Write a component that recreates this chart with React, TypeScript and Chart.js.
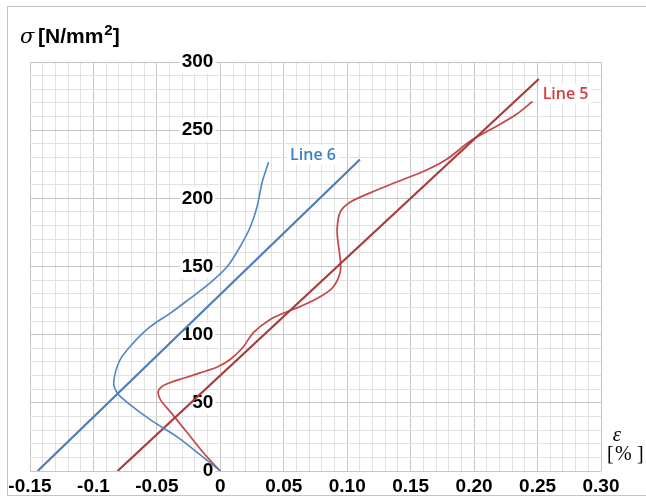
import { useEffect, useRef } from "react";
import { Chart, registerables } from "chart.js";
Chart.register(...registerables);

// Tick labels
const xMajorLabels = ["-0.15", "-0.1", "-0.05", "0", "0.05", "0.10", "0.15", "0.20", "0.25", "0.30"];
const yMajorLabels = ["0", "50", "100", "150", "200", "250", "300"];

// Line 6 (blue) – measured curve
const line6CurveStrain = [0, -0.016, -0.034, -0.055, -0.073, -0.081, -0.084, -0.079, -0.0685, -0.055, -0.039, -0.024, -0.008, 0.0055, 0.0157, 0.0236, 0.029, 0.033, 0.038];
const line6CurveStress = [0, 12, 25, 37.5, 50, 57, 65, 81.6, 94, 106, 116, 126.5, 138, 150, 164.7, 179, 194, 212, 226.5];
// Line 6 – straight line
const line6StraightStrain = [-0.144, 0.11];
const line6StraightStress = [0, 228.5];

// Line 5 (red) – measured curve
const line5CurveStrain = [0, -0.013, -0.026, -0.039, -0.047, -0.049, -0.046, -0.039, -0.029, -0.016, -0.002, 0.008, 0.018, 0.026, 0.039, 0.053, 0.063, 0.079, 0.089, 0.0945, 0.0945, 0.093, 0.092, 0.0945, 0.102, 0.118, 0.139, 0.163, 0.179, 0.197, 0.218, 0.234, 0.246];
const line5CurveStress = [0, 13, 28, 43, 52, 58, 62, 65, 68, 72, 76.5, 82, 91, 101.5, 111, 117, 120.6, 128, 135, 146, 155, 166, 177, 190, 197, 204, 212, 221, 229, 242, 253, 262, 271];
// Line 5 – straight line
const line5StraightStrain = [-0.081, 0.251];
const line5StraightStress = [0, 287.5];

// Series labels
const seriesLabels = ["Line 6", "Line 5"];
const seriesLabelStrain = [0.055, 0.254];
const seriesLabelStress = [232, 277];
const seriesLabelColors = ["#3a7dc9", "#d43a3f"];

const toPoints = (xs: number[], ys: number[]) => xs.map((x, i) => ({ x, y: ys[i] }));

export default function App() {
  const ref = useRef<HTMLCanvasElement>(null);

  useEffect(() => {
    if (!ref.current) return;
    const textPlugin = {
      id: "texts",
      beforeDraw(chart: any) {
        const ctx = chart.ctx;
        ctx.save();
        ctx.fillStyle = "#fff";
        ctx.fillRect(0, 0, chart.width, chart.height);
        ctx.strokeStyle = "#c4c4c4";
        ctx.lineWidth = 1;
        ctx.strokeRect(7.5, 6.5, 700, 489);
        ctx.restore();
      },
      afterDraw(chart: any) {
        const ctx = chart.ctx;
        ctx.save();
        ctx.fillStyle = "#000";
        ctx.textAlign = "left";
        ctx.textBaseline = "alphabetic";
        // Title
        ctx.font = "italic 21px 'DejaVu Serif'";
        ctx.fillText("σ", 20, 43);
        ctx.font = "bold 21px 'Liberation Sans'";
        ctx.fillText("[N/mm", 38, 43);
        const w1 = ctx.measureText("[N/mm").width;
        ctx.font = "bold 15px 'Liberation Sans'";
        ctx.fillText("2", 38 + w1 + 1, 35);
        const w2 = ctx.measureText("2").width;
        ctx.font = "bold 21px 'Liberation Sans'";
        ctx.fillText("]", 38 + w1 + 1 + w2, 43);
        // x axis unit
        ctx.font = "italic 21px 'Liberation Serif'";
        ctx.textAlign = "center";
        ctx.fillText("ε", 617, 441);
        ctx.font = "20px 'Liberation Serif'";
        ctx.textAlign = "left";
        ctx.fillText("[", 607, 460);
        ctx.fillText("%", 615, 460);
        ctx.fillText("]", 637, 460);
        // Series labels
        const xs = chart.scales.x;
        const ys = chart.scales.y;
        ctx.font = "600 16px 'Open Sans'";
        ctx.textBaseline = "middle";
        seriesLabels.forEach((t, i) => {
          const px = xs.getPixelForValue(seriesLabelStrain[i]);
          const py = ys.getPixelForValue(seriesLabelStress[i]);
          const w = ctx.measureText(t).width;
          ctx.fillStyle = "#fff";
          ctx.fillRect(px - 3, py - 10, w + 6, 20);
          ctx.fillStyle = seriesLabelColors[i];
          ctx.fillText(t, px, py + 1);
        });
        ctx.restore();
      },
    };

    const majorColor = "#c6c6c6";
    const minorColor = "#e2e2e2";

    const chart = new Chart(ref.current, {
      type: "scatter",
      data: {
        datasets: [
          {
            data: toPoints(line6StraightStrain, line6StraightStress),
            showLine: true,
            borderColor: "#4a7ebb",
            borderWidth: 2.2,
            pointRadius: 0,
          },
          {
            data: toPoints(line6CurveStrain, line6CurveStress),
            showLine: true,
            borderColor: "#4f86c6",
            borderWidth: 1.6,
            pointRadius: 0,
            tension: 0.3,
          },
          {
            data: toPoints(line5StraightStrain, line5StraightStress),
            showLine: true,
            borderColor: "#a83b3c",
            borderWidth: 2.2,
            pointRadius: 0,
          },
          {
            data: toPoints(line5CurveStrain, line5CurveStress),
            showLine: true,
            borderColor: "#c4474a",
            borderWidth: 1.7,
            pointRadius: 0,
            tension: 0.3,
          },
        ],
      },
      options: {
        responsive: false,
        animation: false,
        layout: { padding: { left: 30, right: 45, top: 62, bottom: 0 } },
        plugins: { legend: { display: false }, tooltip: { enabled: false } },
        scales: {
          x: {
            type: "linear",
            min: -0.15,
            max: 0.3,
            position: "bottom",
            afterFit: (s: any) => {
              s.height = 29;
            },
            ticks: {
              stepSize: 0.01,
              autoSkip: false,
              maxRotation: 0,
              padding: 4,
              color: "#000",
              font: { family: "'Liberation Sans'", size: 19, weight: "bold" },
              callback: (v: any) => {
                const k = Math.round(Number(v) * 100);
                if (k % 5 !== 0) return "";
                return xMajorLabels[(k + 15) / 5];
              },
            },
            grid: {
              drawTicks: false,
              color: (c: any) => (Math.round(c.tick.value * 100) % 5 === 0 ? majorColor : minorColor),
            },
            border: { display: false },
          },
          y: {
            type: "linear",
            min: 0,
            max: 300,
            position: { x: -0.0055 } as any,
            ticks: {
              stepSize: 10,
              autoSkip: false,
              color: "#000",
              font: { family: "'Liberation Sans'", size: 19, weight: "bold" },
              showLabelBackdrop: true,
              backdropColor: (c: any) => (c.tick && Math.round(c.tick.value) % 50 === 0 ? "#fff" : "rgba(0,0,0,0)"),
              backdropPadding: { left: 2, right: 2, top: 0, bottom: 0 },
              callback: (v: any) => {
                const k = Math.round(Number(v));
                if (k % 50 !== 0) return "";
                return yMajorLabels[k / 50];
              },
            },
            grid: {
              drawTicks: false,
              color: (c: any) => (Math.round(c.tick.value) % 50 === 0 ? majorColor : minorColor),
            },
            border: { display: false },
          },
        },
      } as any,
      plugins: [textPlugin],
    });
    return () => chart.destroy();
  }, []);

  return (
    <div style={{ position: "absolute", left: 0, top: 0, width: 646, height: 500, background: "#fff" }}>
      <canvas ref={ref} width={646} height={500} style={{ display: "block" }} />
    </div>
  );
}
